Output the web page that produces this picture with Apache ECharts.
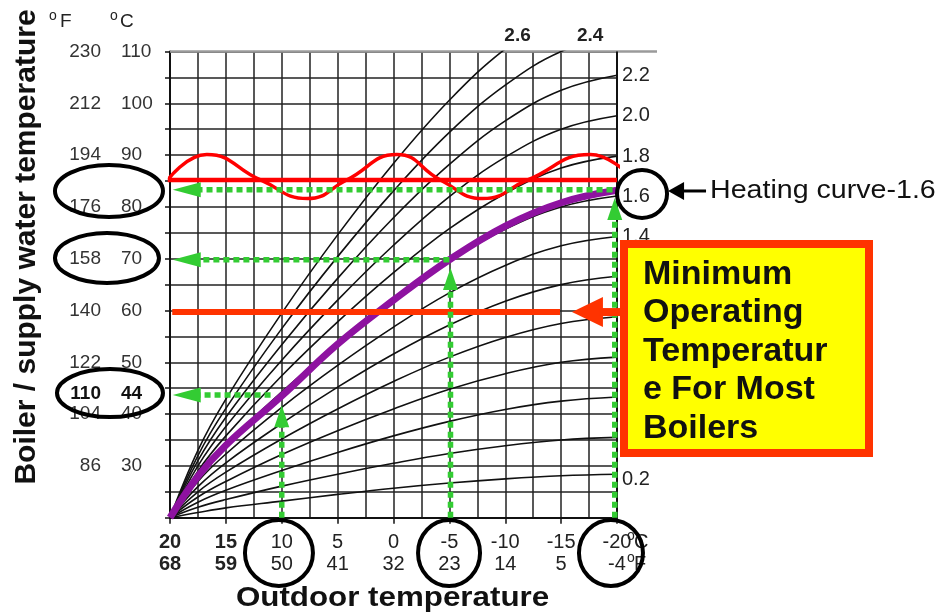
<!DOCTYPE html>
<html><head><meta charset="utf-8">
<script src="https://cdn.jsdelivr.net/npm/echarts@6/dist/echarts.min.js"></script>
<style>html,body{margin:0;padding:0;background:#fff}#c{width:942px;height:613px}</style>
</head><body><div id="c"></div>
<script>
const LF = "'Liberation Sans', Arial, Helvetica, sans-serif";

// Outdoor temperature (°C) sample points along each heating curve
const outdoorC = [20, 17.5, 15, 10, 5, 0, -5, -10, -15, -20];
// Supply temperature (°C) read for each heating curve
const curveNames = ['0.2','0.4','0.6','0.8','1.0','1.2','1.4','1.6','1.8','2.0','2.2','2.4','2.6'];
const curve02 = [20, 21.0, 21.9, 23.2, 24.5, 25.7, 26.7, 27.5, 28.1, 28.4];
const curve04 = [20, 22.0, 23.5, 26.1, 28.4, 30.5, 32.4, 33.9, 35.0, 35.5];
const curve06 = [20, 23.0, 25.3, 29.1, 32.6, 35.8, 38.6, 40.9, 42.5, 43.3];
const curve08 = [20, 24.0, 27.0, 32.2, 36.8, 41.0, 44.8, 47.8, 50.0, 51.0];
const curve10 = [20, 25.0, 28.8, 35.2, 41.0, 46.3, 51.0, 54.8, 57.5, 58.8];
const curve12 = [20, 26.0, 30.6, 38.2, 45.2, 51.6, 57.2, 61.8, 65.0, 66.6];
const curve14 = [20, 27.0, 32.3, 41.3, 49.4, 56.8, 63.4, 68.7, 72.5, 74.3];
const curve16 = [20, 28.0, 34.1, 44.3, 53.6, 62.1, 69.6, 75.7, 80.0, 82.1];
const curve18 = [20, 29.0, 35.8, 47.4, 57.8, 67.3, 75.8, 82.6, 87.5, 89.8];
const curve20 = [20, 30.0, 37.6, 50.4, 62.0, 72.6, 82.0, 89.6, 95.0, 97.6];
const curve22 = [20, 31.0, 39.4, 53.4, 66.2, 77.9, 88.2, 96.6, 102.5, 105.4];
const curve24 = [20, 32.0, 41.1, 56.5, 70.4, 83.1, 94.4, 103.5, 110.0, 113.1];
const curve26 = [20, 33.0, 42.9, 59.5, 74.6, 88.4, 100.6, 110.5, 117.5, 120.9];
const curves = [curve02, curve04, curve06, curve08, curve10, curve12, curve14, curve16, curve18, curve20, curve22, curve24, curve26];
// Highlighted heating curve 1.6
const purpleCurve = [20, 28.0, 34.0, 43.5, 53.5, 62.0, 69.8, 76.3, 80.8, 83.2];
// Red fluctuating supply temperature
const redWaveX = [20.2, 16.7, 11.9, 7.7, 4.2, -0.3, -4.2, -8.0, -12.0, -17.6, -20.9];
const redWaveY = [85.2, 90.1, 85.2, 81.6, 85.2, 90.1, 85.2, 81.6, 85.2, 90.1, 86.5];
const redLineX = [20.2, -20];
const redLineT = 85.2;
// Minimum operating temperature line
const minOpX = [19.8, -14.9];
const minOpT = 59.7;
// Green read-off arrows: [fromX, fromY, toX, toY]
const greenArrows = [
  [-19.6, 83.3, 18.5, 83.3],
  [-5.0, 69.8, 18.5, 69.8],
  [11.0, 43.7, 18.5, 43.7],
  [10.0, 20.0, 10.0, 39.6],
  [-5.1, 20.0, -5.1, 66.1],
  [-19.8, 20.0, -19.8, 79.6]
];
// Tick labels
const xTickC = [20, 15, 10, 5, 0, -5, -10, -15, -20];
const xTickF = [68, 59, 50, 41, 32, 23, 14, 5, -4];
const yTickC = [30, 40, 50, 60, 70, 80, 90, 100, 110];
const yTickF = [86, 104, 122, 140, 158, 176, 194, 212, 230];
const topLabels = ['2.6', '2.4'];
const topLabelX = [-11.1, -17.6];

const chart = echarts.init(document.getElementById('c'));

const fmtX = v => {
  const i = xTickC.indexOf(v);
  if (i < 0) return '';
  const b = i < 2 ? 'b' : '';
  return '{c' + b + '|' + xTickC[i] + '}\n{f' + b + '|' + xTickF[i] + '}';
};
const fmtC = v => { const i = yTickC.indexOf(v); return i < 0 ? '' : String(yTickC[i]); };
const fmtF = v => { const i = yTickC.indexOf(v); return i < 0 ? '' : String(yTickF[i]); };

const gridLine = { color: '#222', width: 1.5 };
const labTxt = { fontSize: 20, color: '#222', fontFamily: LF, lineHeight: 22 };
const GREEN = '#33cc33';

const series = curves.map((arr, i) => ({
  type: 'line', name: 'k' + curveNames[i], silent: true, z: 2,
  data: outdoorC.map((x, j) => [x, arr[j]]),
  smooth: 0.4, symbol: 'none', lineStyle: { color: '#111', width: 1.6 }
}));
series.push({
  type: 'line', name: 'redline', silent: true, z: 3, symbol: 'none',
  data: redLineX.map(x => [x, redLineT]), lineStyle: { color: '#ff0000', width: 4.5 }
});
series.push({
  type: 'line', name: 'redwave', silent: true, z: 3, symbol: 'none', clip: false, smooth: 0.5,
  data: redWaveX.map((x, j) => [x, redWaveY[j]]), lineStyle: { color: '#ff0000', width: 3.5 }
});
series.push({
  type: 'line', name: 'purple', silent: true, z: 4, symbol: 'none', smooth: 0.4,
  data: outdoorC.map((x, j) => [x, purpleCurve[j]]), lineStyle: { color: '#8e12a0', width: 7 }
});
series.push({
  type: 'line', name: 'minop', silent: true, z: 4, symbol: 'none',
  data: minOpX.map(x => [x, minOpT]), lineStyle: { color: '#ff3300', width: 6 }
});
greenArrows.forEach((a, k) => {
  const horiz = a[1] === a[3];
  series.push({
    type: 'line', name: 'green' + k, silent: true, z: 5, clip: false,
    showSymbol: true, symbol: 'none',
    lineStyle: { color: GREEN, width: 5.5, type: [6, 4] },
    itemStyle: { color: GREEN },
    data: [
      { value: [a[0], a[1]], symbol: 'none' },
      { value: [a[2], a[3]], symbol: 'triangle', symbolSize: horiz ? [15, 28] : [15, 22], symbolRotate: horiz ? 90 : 0 }
    ]
  });
});

chart.setOption({
  animation: false,
  backgroundColor: '#fff',
  grid: { left: 170, right: 325, top: 51.5, bottom: 95.3 },
  xAxis: {
    type: 'value', min: -20, max: 20, interval: 5, inverse: true,
    axisLine: { show: true, onZero: false, lineStyle: { color: '#111', width: 2 } },
    axisTick: { show: true, length: 6, lineStyle: { color: '#111', width: 1.5 } },
    minorTick: { show: false, splitNumber: 2 },
    splitLine: { show: true, lineStyle: gridLine },
    minorSplitLine: { show: true, lineStyle: gridLine },
    axisLabel: {
      margin: 14, formatter: fmtX, showMinLabel: true, showMaxLabel: true,
      rich: {
        c: labTxt, f: labTxt,
        cb: Object.assign({}, labTxt, { fontWeight: 'bold' }),
        fb: Object.assign({}, labTxt, { fontWeight: 'bold' })
      }
    }
  },
  yAxis: [{
    type: 'value', min: 20, max: 110, interval: 5, position: 'left',
    axisLine: { show: true, onZero: false, lineStyle: { color: '#111', width: 2 } },
    axisTick: { show: true, length: 5, lineStyle: { color: '#111', width: 1.5 } },
    splitLine: { show: true, lineStyle: gridLine },
    axisLabel: { align: 'left', margin: 49, formatter: fmtC, fontSize: 19, color: '#333', fontFamily: LF, showMaxLabel: true }
  }, {
    type: 'value', min: 20, max: 110, interval: 5, position: 'left',
    axisLine: { show: false }, axisTick: { show: false }, splitLine: { show: false },
    axisLabel: { align: 'right', margin: 69, formatter: fmtF, fontSize: 19, color: '#333', fontFamily: LF, showMaxLabel: true }
  }],
  series: series
});

const P = (x, y) => chart.convertToPixel({ xAxisIndex: 0, yAxisIndex: 0 }, [x, y]);
const gl = P(20, 20)[0], gb = P(20, 20)[1], gr = P(-20, 110)[0], gt = P(-20, 110)[1];
const g = [];
// top border extension (gray) and right border
g.push({ type: 'line', z: 1, shape: { x1: gl, y1: gt, x2: gr + 40, y2: gt }, style: { stroke: '#9a9a9a', lineWidth: 2.5 } });
g.push({ type: 'line', z: 1, shape: { x1: gr, y1: gt, x2: gr, y2: gb }, style: { stroke: '#111', lineWidth: 2 } });

// curve end labels on the right
curves.forEach((arr, i) => {
  const last = arr[arr.length - 1];
  if (last > 110) return;
  const p = P(-20, last);
  const dy = curveNames[i] === '0.2' ? 5 : 0;
  g.push({ type: 'text', z: 20, x: p[0] + 5, y: p[1] + dy, style: { text: curveNames[i], font: '20px ' + LF, fill: '#222', align: 'left', verticalAlign: 'middle' } });
});
topLabels.forEach((t, i) => {
  const p = P(topLabelX[i], 110);
  g.push({ type: 'text', z: 20, x: p[0], y: p[1] - 16, style: { text: t, font: 'bold 19px ' + LF, fill: '#222', align: 'center', verticalAlign: 'middle' } });
});

// unit headers
g.push({ type: 'text', z: 20, x: gl - 117, y: 16, style: { text: 'o', font: '14px ' + LF, fill: '#222', align: 'center', verticalAlign: 'middle' } });
g.push({ type: 'text', z: 20, x: gl - 110, y: 22, style: { text: 'F', font: '19px ' + LF, fill: '#222', align: 'left', verticalAlign: 'middle' } });
g.push({ type: 'text', z: 20, x: gl - 56, y: 16, style: { text: 'o', font: '14px ' + LF, fill: '#222', align: 'center', verticalAlign: 'middle' } });
g.push({ type: 'text', z: 20, x: gl - 50, y: 22, style: { text: 'C', font: '19px ' + LF, fill: '#222', align: 'left', verticalAlign: 'middle' } });
// bottom unit suffix
g.push({ type: 'text', z: 20, x: gr + 10, y: gb + 18, style: { text: 'o', font: '14px ' + LF, fill: '#222', align: 'left', verticalAlign: 'middle' } });
g.push({ type: 'text', z: 20, x: gr + 17, y: gb + 25, style: { text: 'C', font: '20px ' + LF, fill: '#222', align: 'left', verticalAlign: 'middle' } });
g.push({ type: 'text', z: 20, x: gr + 10, y: gb + 40, style: { text: 'o', font: '14px ' + LF, fill: '#222', align: 'left', verticalAlign: 'middle' } });
g.push({ type: 'text', z: 20, x: gr + 17, y: gb + 47, style: { text: 'F', font: '20px ' + LF, fill: '#222', align: 'left', verticalAlign: 'middle' } });

// extra bold label 110 / 44
const y44 = P(20, 44)[1];
g.push({ type: 'text', z: 20, x: gl - 69, y: y44, style: { text: '110', font: 'bold 19px ' + LF, fill: '#111', align: 'right', verticalAlign: 'middle' } });
g.push({ type: 'text', z: 20, x: gl - 49, y: y44, style: { text: '44', font: 'bold 19px ' + LF, fill: '#111', align: 'left', verticalAlign: 'middle' } });

// axis titles
g.push({ type: 'text', z: 20, x: 27, y: 247, rotation: Math.PI / 2, style: { text: 'Boiler / supply water temperature', font: 'bold 30px ' + LF, fill: '#111', align: 'center', verticalAlign: 'middle' } });
g.push({ type: 'text', z: 20, x: (gl + gr) / 2 - 1, y: 599, scaleX: 1.16, style: { text: 'Outdoor temperature', font: 'bold 27px ' + LF, fill: '#111', align: 'center', verticalAlign: 'middle' } });

// ellipses
const ell = [
  [25.46, 83.07, 54, 26], [25.64, 70.14, 52, 25], [25.37, 44.05, 53, 24],
  [10.25, 13.2, 34, 33], [-4.97, 13.2, 31, 33], [-19.46, 13.2, 32, 33],
  [-22.24, 82.5, 25, 24]
];
ell.forEach(e => {
  const p = P(e[0], e[1]);
  g.push({ type: 'ellipse', z: 30, shape: { cx: p[0], cy: p[1], rx: e[2], ry: e[3] }, style: { fill: 'none', stroke: '#000', lineWidth: 4 } });
});

// Heating curve pointer
const ph = P(-22.24, 82.88);
const tipX = ph[0] + 26, hy = ph[1] - 1;
g.push({ type: 'polygon', z: 30, shape: { points: [[tipX, hy], [tipX + 16, hy - 9], [tipX + 16, hy + 9]] }, style: { fill: '#000' } });
g.push({ type: 'line', z: 30, shape: { x1: tipX + 12, y1: hy, x2: tipX + 38, y2: hy }, style: { stroke: '#000', lineWidth: 3 } });
g.push({ type: 'text', z: 30, x: tipX + 42, y: hy, scaleX: 1.1, style: { text: 'Heating curve-1.6', font: '26px ' + LF, fill: '#111', align: 'left', verticalAlign: 'middle' } });

// Callout box
const bx = gr + 7, by = 244;
g.push({ type: 'rect', z: 40, shape: { x: bx, y: by, width: 245, height: 209 }, style: { fill: '#ffff00', stroke: '#ff3300', lineWidth: 8 } });
g.push({ type: 'text', z: 41, x: bx + 19, y: by + 11, style: { text: 'Minimum\nOperating\nTemperatur\ne For Most\nBoilers', font: 'bold 34px ' + LF, lineHeight: 38.5, fill: '#111', align: 'left', verticalAlign: 'top' } });
// arrow from box to min-operating line
const pa = P(-15.97, minOpT);
g.push({ type: 'polygon', z: 41, shape: { points: [[pa[0], pa[1]], [pa[0] + 31, pa[1] - 15], [pa[0] + 31, pa[1] + 15]] }, style: { fill: '#ff3300' } });
g.push({ type: 'rect', z: 41, shape: { x: pa[0] + 28, y: pa[1] - 4, width: bx - pa[0] - 28, height: 8 }, style: { fill: '#ff3300' } });

chart.setOption({ graphic: g });
</script>
</body></html>
